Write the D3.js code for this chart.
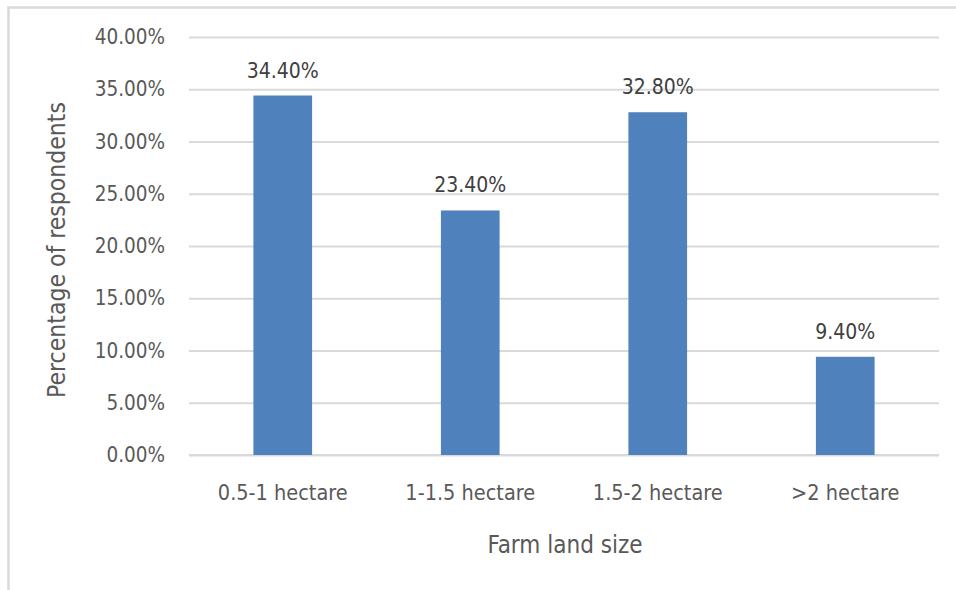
<!DOCTYPE html>
<html><head><meta charset="utf-8">
<script src="https://cdn.jsdelivr.net/npm/d3@7/dist/d3.min.js"></script>
<style>
body{margin:0;background:#fff;}
text{font-family:"Liberation Sans Narrow","Arial Narrow","DejaVu Sans Condensed",sans-serif;}
</style></head>
<body>
<svg id="c" width="956" height="590"></svg>
<script>
const categories = ["0.5-1 hectare","1-1.5 hectare","1.5-2 hectare",">2 hectare"];
const values = [0.344, 0.234, 0.328, 0.094];
const yTicks = [0,0.05,0.10,0.15,0.20,0.25,0.30,0.35,0.40];
const xTitle = "Farm land size";
const yTitle = "Percentage of respondents";

const svg = d3.select("#c");
svg.append("rect").attr("x",8.5).attr("y",7.5).attr("width",960).attr("height",600)
  .attr("fill","#fff").attr("stroke","#d9d9d9").attr("stroke-width",2.5);

const x = d3.scaleBand().domain(categories).range([189,939]).padding(0);
const y = d3.scaleLinear().domain([0,0.4]).range([455,37]);
const barW = x.bandwidth()*0.313;

const gy = svg.append("g").attr("transform","translate(189,0)")
  .call(d3.axisLeft(y).tickValues(yTicks).tickSize(-750).tickPadding(24)
    .tickFormat(d=>d3.format(".2f")(d*100)+"%"));
gy.select(".domain").remove();
gy.selectAll(".tick line").attr("stroke","#d9d9d9").attr("stroke-width",2);
gy.selectAll(".tick text").attr("fill","#595959").style("font-size","20.5px");

svg.append("line").attr("x1",189).attr("x2",939).attr("y1",y(0)).attr("y2",y(0))
  .attr("stroke","#d9d9d9").attr("stroke-width",2);

svg.selectAll(".bar").data(values).join("rect")
  .attr("x",(d,i)=>x(categories[i])+x.bandwidth()/2-barW/2)
  .attr("width",barW)
  .attr("y",d=>y(d)).attr("height",d=>y(0)-y(d))
  .attr("fill","#4f81bd");

svg.selectAll(".lbl").data(values).join("text")
  .attr("x",(d,i)=>x(categories[i])+x.bandwidth()/2)
  .attr("y",d=>y(d)-18)
  .attr("text-anchor","middle").attr("fill","#404040").style("font-size","21px")
  .text(d=>d3.format(".2f")(d*100)+"%");

const gx = svg.append("g").attr("transform",`translate(0,${y(0)})`)
  .call(d3.axisBottom(x).tickSize(0).tickPadding(30));
gx.select(".domain").remove();
gx.selectAll(".tick text").attr("fill","#595959").style("font-size","21.5px");

svg.append("text").attr("x",565).attr("y",553).attr("text-anchor","middle")
  .attr("fill","#595959").style("font-size","24px").text(xTitle);
svg.append("text").attr("transform","translate(65,250) rotate(-90)").attr("text-anchor","middle")
  .attr("fill","#595959").style("font-size","24.5px").text(yTitle);
</script>
</body></html>
